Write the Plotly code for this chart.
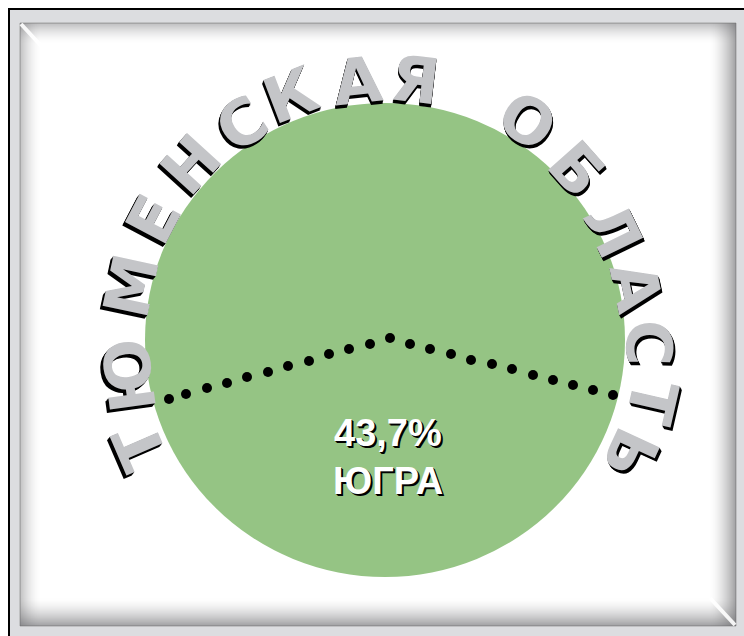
import math
import plotly.graph_objects as go

W, H = 744, 636

# ---------------- data ----------------
title_words = ["ТЮМЕНСКАЯ", "ОБЛАСТЬ"]
share_value = "43,7%"
share_name = "ЮГРА"

# dotted divider line (pixel coordinates of each dot)
divider_x = [169, 186, 207, 227, 247, 268, 288, 309, 329, 349, 370, 390,
             410, 430, 451, 471, 492, 512, 533, 553, 573, 593, 613]
divider_y = [399, 394, 388, 383, 377, 372, 366, 361, 354, 349, 344, 338,
             344, 349, 354, 360, 364, 369, 375, 380, 385, 390, 395]

# ---------------- layout constants ----------------
CX, CY = 385, 340          # disc centre
RX, RY = 240, 237          # disc radii
GREEN = "#95c484"
LETTER_GREY = "#c4c5c8"
FONT_ARC = "DejaVu Sans"
FONT_LBL = "Liberation Sans"

# polar placement of each arched letter (angle in deg, radius in px)
arc_angles = [[203.4, 187.8, 167.8, 152.4, 137.8, 123.6, 111.0, 96.1, 83.4],
              [57.0, 41.7, 25.9, 11.9, -0.6, -12.9, -24.9]]
arc_radii = [[267, 258, 259, 261, 261, 259, 262, 260, 261],
             [260, 256, 252, 256, 263, 273, 270]]

fig = go.Figure()

shapes = []
# outer frame
shapes.append(dict(type="rect", x0=9, y0=9, x1=W + 20, y1=H + 20,
                   fillcolor="#dcdde0", line=dict(color="black", width=2),
                   layer="below"))
PX0, PY0, PX1, PY1 = 20, 23, 736, 626
shapes.append(dict(type="rect", x0=PX0, y0=PY0, x1=PX1, y1=PY1,
                   fillcolor="white", line=dict(color="#a4a4a4", width=1),
                   layer="below"))


def strip(x0, y0, x1, y1, a):
    shapes.append(dict(type="rect", x0=x0, y0=y0, x1=x1, y1=y1,
                       fillcolor=f"rgba(105,105,108,{a:.3f})",
                       line=dict(width=0), layer="below"))


TOP_D, LEFT_D, RIGHT_D, BOT_D = 20, 20, 26, 28
for i in range(TOP_D):
    strip(PX0, PY0 + i, PX1, PY0 + i + 1, 0.42 * (1 - i / TOP_D) ** 1.6)
for i in range(LEFT_D):
    strip(PX0 + i, PY0, PX0 + i + 1, PY1, 0.40 * (1 - i / LEFT_D) ** 1.6)
for i in range(RIGHT_D):
    strip(PX1 - i - 1, PY0, PX1 - i, PY1, 0.62 * (1 - i / RIGHT_D) ** 1.6)
for i in range(BOT_D):
    strip(PX0, PY1 - i - 1, PX1, PY1 - i, 0.62 * (1 - i / BOT_D) ** 1.6)

# bevel corner highlights
shapes.append(dict(type="line", x0=PX0 + 1, y0=PY0 + 1, x1=PX0 + 24, y1=PY0 + 26,
                   line=dict(color="rgba(255,255,255,0.9)", width=4), layer="below"))
shapes.append(dict(type="line", x0=PX1 - 1, y0=PY1 - 1, x1=PX1 - 26, y1=PY1 - 28,
                   line=dict(color="rgba(255,255,255,0.9)", width=4), layer="below"))

# the disc
shapes.append(dict(type="circle", x0=CX - RX, y0=CY - RY, x1=CX + RX, y1=CY + RY,
                   fillcolor=GREEN, line=dict(width=0), layer="below"))

# dotted divider
fig.add_trace(go.Scatter(x=divider_x, y=divider_y, mode="markers",
                         marker=dict(size=10, color="black", line=dict(width=0)),
                         hoverinfo="skip"))


def extrude_shadow(sdx, sdy, rot_deg, steps=4):
    """CSS text-shadow list giving a solid extrusion toward screen (sdx, sdy),
    expressed in the rotated text's local frame."""
    a = math.radians(rot_deg)
    lx = sdx * math.cos(a) + sdy * math.sin(a)
    ly = -sdx * math.sin(a) + sdy * math.cos(a)
    parts = []
    for k in range(1, steps + 1):
        f = k / steps
        parts.append(f"{lx * f:.2f}px {ly * f:.2f}px 0px #000")
    return ", ".join(parts)


annotations = []
# arched title letters with extruded shadow
for word, angs, rads in zip(title_words, arc_angles, arc_radii):
    for ch, th, r in zip(word, angs, rads):
        t = math.radians(th)
        x = CX + r * math.cos(t)
        y = CY - r * math.sin(t)
        rot = 90 - th
        sdx = 2.5 * math.cos(t) - 0.5
        sdy = 3.5
        annotations.append(dict(x=x, y=y, xref="x", yref="y", text=ch,
                                showarrow=False, textangle=rot,
                                xanchor="center", yanchor="middle",
                                font=dict(family=FONT_ARC, size=63,
                                          color=LETTER_GREY, weight="bold",
                                          shadow=extrude_shadow(sdx, sdy, rot))))

# centre labels with shadow
for txt, ly, anc in ((share_value, 455, "bottom"), (share_name, 459, "top")):
    annotations.append(dict(x=388, y=ly, xref="x", yref="y",
                            text=txt, showarrow=False,
                            xanchor="center", yanchor=anc, borderpad=0,
                            font=dict(family=FONT_LBL, size=38, color="white",
                                      weight="bold",
                                      shadow="1px 1px 0px #000, 2px 2px 0px #000")))

fig.update_layout(
    width=W, height=H,
    margin=dict(l=0, r=0, t=0, b=0),
    paper_bgcolor="white", plot_bgcolor="white",
    showlegend=False,
    xaxis=dict(range=[0, W], visible=False, fixedrange=True),
    yaxis=dict(range=[H, 0], visible=False, fixedrange=True),
    shapes=shapes,
    annotations=annotations,
)

fig.write_html("out.html", config={"displayModeBar": False},
               post_script="document.body.style.margin='0';")
